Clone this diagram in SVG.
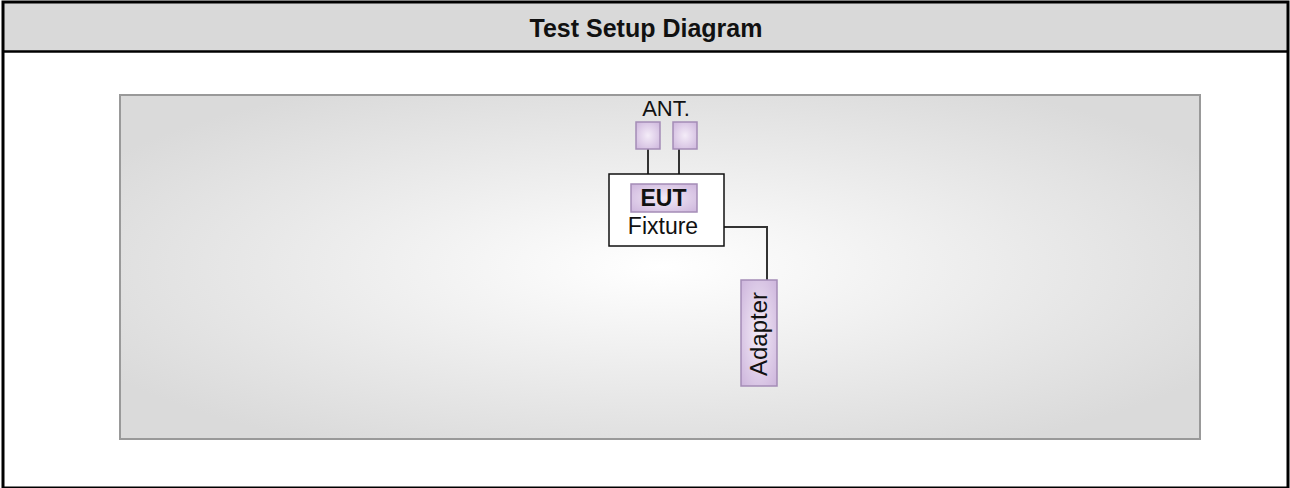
<svg xmlns="http://www.w3.org/2000/svg" width="1290" height="488" viewBox="0 0 1290 488">
<style>
.t{font-family:"Liberation Sans",Arial,sans-serif;fill:#111}
.purple{fill:url(#pg);stroke:#a48cb6;stroke-width:1.5}
.wire{stroke:#333;stroke-width:2;fill:none}
</style>
<defs>
<radialGradient id="bg" cx="0.5" cy="0.5" r="0.6">
<stop offset="0" stop-color="#ffffff"/>
<stop offset="1" stop-color="#dadada"/>
</radialGradient>
<radialGradient id="pg" cx="0.5" cy="0.5" r="0.7">
<stop offset="0" stop-color="#f4ecf8"/>
<stop offset="1" stop-color="#cdb5dc"/>
</radialGradient>
</defs>
<rect x="0" y="0" width="1290" height="488" fill="#fff"/>
<g id="frame">
<rect x="4" y="3" width="1283" height="49" fill="#d9d9d9"/>
<line x1="4" y1="51.5" x2="1287" y2="51.5" stroke="#000" stroke-width="2.5"/>
<rect x="3" y="2" width="1285" height="486" fill="none" stroke="#000" stroke-width="3"/>
<text class="t" x="646" y="37" text-anchor="middle" font-size="25" font-weight="bold">Test Setup Diagram</text>
</g>
<g id="panel">
<rect x="120" y="95" width="1080" height="344" fill="url(#bg)" stroke="#999" stroke-width="2"/>
</g>
<g id="connectors">
<line class="wire" x1="648" y1="149" x2="648" y2="184"/>
<line class="wire" x1="679" y1="149" x2="679" y2="184"/>
<polyline class="wire" points="724,227 767,227 767,280"/>
</g>
<g id="ant">
<text class="t" x="666" y="116" text-anchor="middle" font-size="22" fill="#333">ANT.</text>
<rect class="purple" x="636" y="122" width="24" height="27"/>
<rect class="purple" x="673" y="122" width="24" height="27"/>
</g>
<g id="fixture">
<rect x="609" y="174" width="115" height="72" fill="#fff" stroke="#111" stroke-width="1.5"/>
<text class="t" x="663" y="234" text-anchor="middle" font-size="23">Fixture</text>
</g>
<g id="eut">
<rect class="purple" x="631" y="184" width="66" height="28"/>
<text class="t" x="663.5" y="206" text-anchor="middle" font-size="23" font-weight="bold">EUT</text>
</g>
<g id="adapter">
<rect class="purple" x="741" y="280" width="36" height="106"/>
<text class="t" transform="translate(767,334) rotate(-90)" text-anchor="middle" font-size="24">Adapter</text>
</g>
</svg>
